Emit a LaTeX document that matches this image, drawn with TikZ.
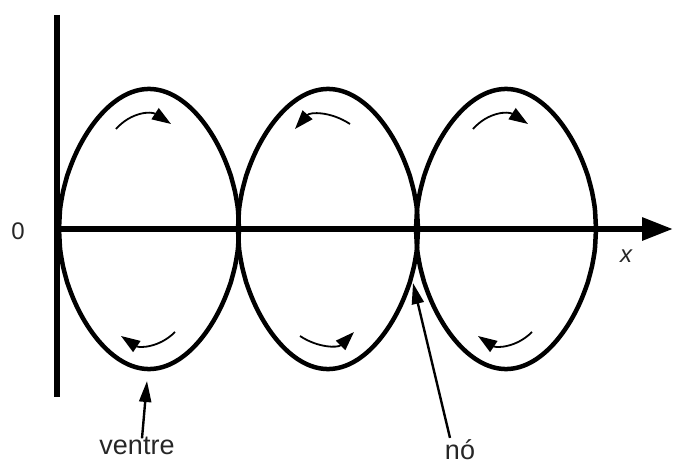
\documentclass[tikz,border=0pt]{standalone}
\usepackage{fontspec}
\setmainfont{Liberation Sans}
\usetikzlibrary{arrows.meta,positioning}
\tikzset{
  axis/.style={line width=6pt},
  loopline/.style={line width=4.5pt, line join=round},
  spin/.style={line width=1.8pt},
  spinR/.style={spin,-{Triangle[length=19pt,width=13pt]}},
  spinL/.style={spin,{Triangle[length=19pt,width=13pt]}-},
  pointer/.style={line width=2.4pt, -{Triangle[length=21pt,width=12pt]}},
  lbl/.style={font=\fontsize{27}{30}\selectfont, inner sep=0pt, text=black!85},
}

\begin{document}
\begin{tikzpicture}[x=1pt,y=-1pt]
  \useasboundingbox (0,0) rectangle (674,465);
  % axes
  \coordinate (orig) at (57,229);
  \coordinate (xend) at (673,229);
  \draw[axis] (57,15) -- (57,397);
  \draw[axis,-{Triangle[length=31pt,width=22pt]}] (orig) -- (xend);
  \node[lbl,font=\fontsize{24}{28}\selectfont] (zero) at (18,231) {0};
  \node[lbl,font=\fontsize{24}{28}\selectfont\itshape] (xlbl) at (626,256) {x};
  % envelope loops with the small rotation arrows
  \foreach \cx/\tp/\bt in {149/spinR/spinL, 328/spinL/spinR, 506/spinR/spinL}{
    \draw[loopline] plot[domain=0:180,samples=181,smooth] ({\cx-90+\x},{229-140*(abs(sin(\x)))^0.5})
      -- plot[domain=180:0,samples=181,smooth] ({\cx-90+\x},{229+140*(abs(sin(\x)))^0.5}) -- cycle;
    \draw[\tp] (\cx-33,129) .. controls (\cx-18,112) and (\cx+2,111) .. (\cx+22,124);
    \draw[\bt] (\cx-28,336) .. controls (\cx-10,348) and (\cx+10,348) .. (\cx+26,332);
  }
  % labels
  \node[lbl,anchor=base] (ventre) at (137,454) {ventre};
  \node[lbl,anchor=base] (no) at (460,459) {nó};
  \coordinate (ventretip) at (147,381);
  \coordinate (notip) at (413,283);
  \draw[pointer] ([xshift=5pt,yshift=-2pt]ventre.north) -- (ventretip);
  \draw[pointer] ([xshift=-10pt,yshift=1pt]no.north) -- (notip);
\end{tikzpicture}
\end{document}
